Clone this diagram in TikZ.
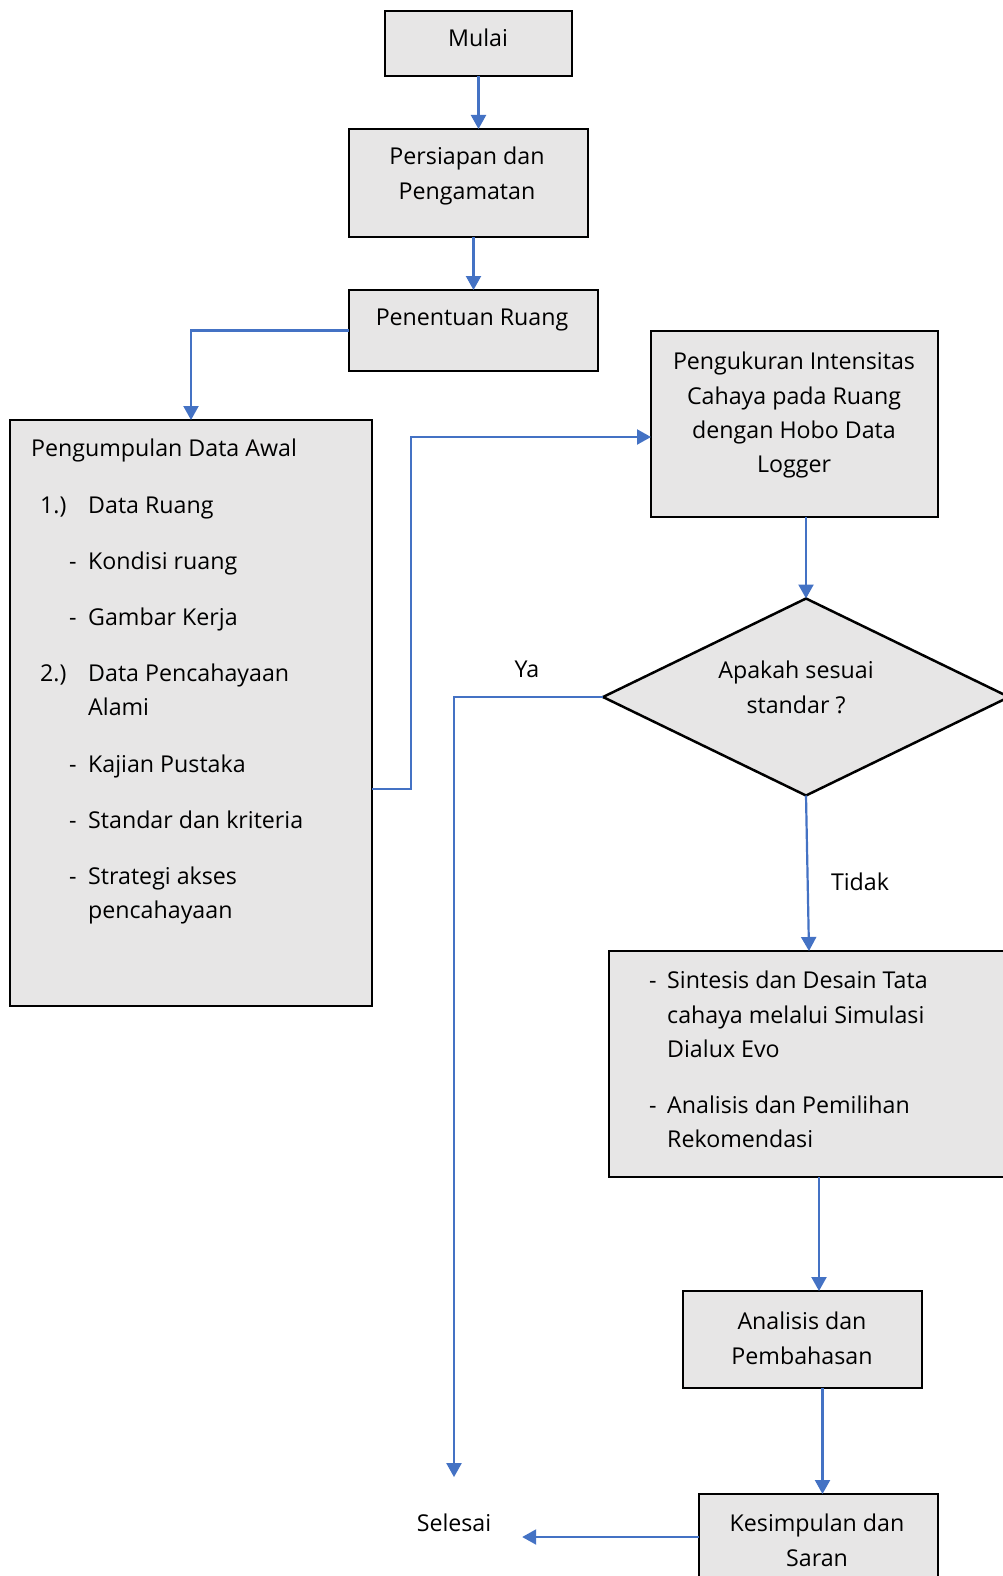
\documentclass[tikz,border=0pt]{standalone}
\usepackage{fontspec}
\setmainfont{Open Sans}
\usetikzlibrary{shapes.geometric, arrows.meta, positioning, calc}
\definecolor{boxgray}{HTML}{E7E6E6}
\definecolor{flowblue}{HTML}{4472C4}

\begin{document}
\begin{tikzpicture}[
  x=1pt, y=-1pt,
  every node/.style={font=\fontsize{23.2}{34.2}\selectfont},
  box/.style={rectangle, draw=black, line width=2.5pt, fill=boxgray, inner sep=0pt, outer sep=0pt},
  decision/.style={diamond, draw=black, line width=2.5pt, fill=boxgray, inner sep=0pt, outer sep=0pt},
  txt/.style={align=center, inner sep=0pt, anchor=north},
  listtxt/.style={align=left, inner sep=0pt, anchor=north west},
  lbl/.style={inner sep=0pt, anchor=base},
  flow/.style={draw=flowblue, line width=2.2pt, -{Triangle[width=15pt,length=14pt]}}
]
\useasboundingbox (0,0) rectangle (1003,1576);

% Boxes
\node[box, minimum width=187pt, minimum height=65pt] (start) at (478.5,43.5) {};
\node[box, minimum width=239pt, minimum height=108pt] (prep) at (468.5,183) {};
\node[box, minimum width=249pt, minimum height=81pt] (room) at (473.5,330.5) {};
\node[box, minimum width=362pt, minimum height=586pt] (collect) at (191,713) {};
\node[box, minimum width=287pt, minimum height=186pt] (measure) at (794.5,424) {};
\node[decision, minimum width=406pt, minimum height=197pt] (check) at (806,697) {};
\node[box, minimum width=400pt, minimum height=226pt] (synth) at (809,1064) {};
\node[box, minimum width=239pt, minimum height=97pt] (analysis) at (802.5,1339.5) {};
\node[box, minimum width=239pt, minimum height=86pt] (concl) at (818.5,1537) {};

% Texts
\node[txt] (starttxt) at (478,29) {Mulai};
\node[txt] (preptxt) at (467,147) {Persiapan dan\\Pengamatan};
\node[txt] (roomtxt) at (472,309) {Penentuan Ruang};
\node[listtxt] (collecttxt) at (31,439) {Pengumpulan Data Awal\\[22pt]
  \makebox[57pt][l]{\hspace*{9pt}1.)}Data Ruang\\[22pt]
  \makebox[57pt][l]{\hspace*{38pt}-}Kondisi ruang\\[22pt]
  \makebox[57pt][l]{\hspace*{38pt}-}Gambar Kerja\\[22pt]
  \makebox[57pt][l]{\hspace*{9pt}2.)}Data Pencahayaan\\
  \hspace*{57pt}Alami\\[22pt]
  \makebox[57pt][l]{\hspace*{38pt}-}Kajian Pustaka\\[22pt]
  \makebox[57pt][l]{\hspace*{38pt}-}Standar dan kriteria\\[22pt]
  \makebox[57pt][l]{\hspace*{38pt}-}Strategi akses\\
  \hspace*{57pt}pencahayaan};
\node[txt] (measuretxt) at (794,352) {Pengukuran Intensitas\\Cahaya pada Ruang\\dengan Hobo Data\\Logger};
\node[txt] (checktxt) at (796,661) {Apakah sesuai\\standar ?};
\node[listtxt] (synthtxt) at (649,971) {\makebox[18pt][l]{-}Sintesis dan Desain Tata\\
  \hspace*{18pt}cahaya melalui Simulasi\\
  \hspace*{18pt}Dialux Evo\\[22pt]
  \makebox[18pt][l]{-}Analisis dan Pemilihan\\
  \hspace*{18pt}Rekomendasi};
\node[txt] (analysistxt) at (802,1312) {Analisis dan\\Pembahasan};
\node[txt] (concltxt) at (817,1514) {Kesimpulan dan\\Saran};
\node[lbl, minimum width=136pt, minimum height=90pt] (finish) at (454,1531) {Selesai};
\node[lbl] (yes) at (527,677) {Ya};
\node[lbl] (no) at (860,890) {Tidak};

% Connectors
\draw[flow] (start.south) -- (start.south |- prep.north);
\draw[flow] (prep.south -| room.north) -- (room.north);
\draw[flow] (room.west) -| (collect.north);
\draw[flow] ([yshift=-76pt]collect.east) -- ++(39,0) |- ([yshift=-13pt]measure.west);
\draw[flow] (measure.south -| check.north) -- (check.north);
\draw[flow] (check.west) -| (finish.north);
\draw[flow] (check.south) -- (synth.north);
\draw[flow] ([xshift=10pt]synth.south) -- ([xshift=10pt]synth.south |- analysis.north);
\draw[flow] ([xshift=20pt]analysis.south) -- ([xshift=20pt]analysis.south |- concl.north);
\draw[flow] (concl.west) -- (concl.west -| finish.east);

\end{tikzpicture}
\end{document}
